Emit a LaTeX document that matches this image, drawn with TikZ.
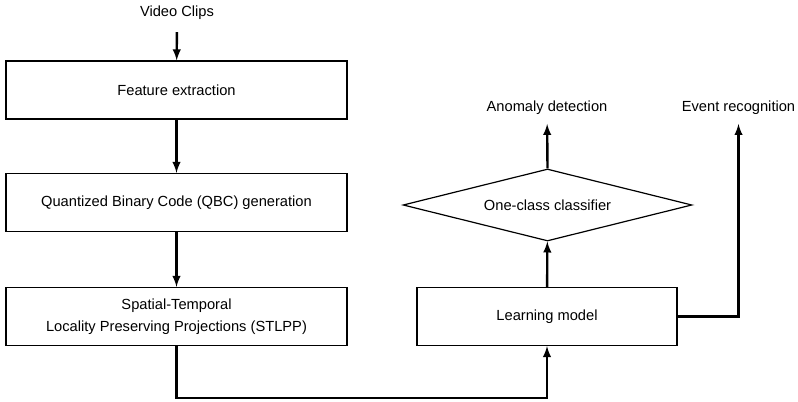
\documentclass[tikz,border=0pt]{standalone}
\usepackage{fontspec}
\setmainfont{Liberation Sans}
\usepackage{tikz}
\usetikzlibrary{arrows,calc,positioning,shapes.geometric}
\tikzset{%
	process/.style  = {draw, rectangle, line width=0.9pt, minimum width=255.75pt, minimum height=43.5pt, text centered, align=center},
	decision/.style = {draw, diamond, line width=0.9pt, aspect=4, inner sep=0pt, minimum width=216.75pt, minimum height=54pt, text centered},
	txt/.style      = {inner sep=0pt},
	arrow/.style    = {line width=1.8pt,-latex},
}

\begin{document}
\begin{tikzpicture}[x=0.75pt,y=-0.75pt,font=\fontsize{11}{16.5}\selectfont]
	\useasboundingbox (0,0) rectangle (798,402);
	\node[txt] (clips) at (177,13) {Video Clips};
	\node[process] (feat) at (176.5,90) {Feature extraction};
	\node[process] (qbc) at (176.5,202.5) {Quantized Binary Code (QBC) generation};
	\node[process] (stlpp) at (176.5,316.5) {Spatial-Temporal\\Locality Preserving Projections (STLPP)};
	\node[process, minimum width=195pt] (learn) at (547,316.5) {Learning model};
	\node[decision] (occ) at (547.5,205) {One-class classifier};
	\node[txt] (anom) at (547,108) {Anomaly detection};
	\node[txt] (event) at (738.5,108) {Event recognition};
	
	\draw[arrow,shorten <=9pt] (clips) -- (feat);
	\draw[arrow] (feat) -- (qbc);
	\draw[arrow] (qbc) -- (stlpp);
	\draw[arrow] (stlpp.south) -- ++(0,52) -| (learn.south);
	\draw[arrow] (learn) -- (occ);
	\draw[arrow,shorten >=12pt] (occ.north) -- (anom.center);
	\draw[arrow,shorten >=12pt] (learn.east) -| (event.center);
\end{tikzpicture}
\end{document}
